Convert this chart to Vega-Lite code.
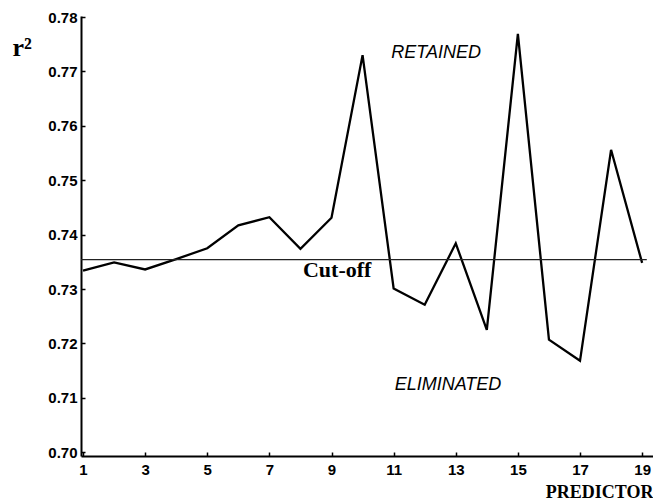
{
  "$schema": "https://vega.github.io/schema/vega-lite/v6.json",
  "width": 572,
  "height": 440,
  "autosize": {"type": "none"},
  "padding": {"left": 81, "top": 16, "right": 0, "bottom": 44},
  "background": "white",
  "config": {"view": {"stroke": null}},
  "datasets": {
    "series": [
      {"predictor": 1, "r2": 0.7334},
      {"predictor": 2, "r2": 0.7349},
      {"predictor": 3, "r2": 0.7336},
      {"predictor": 4, "r2": 0.7355},
      {"predictor": 5, "r2": 0.7375},
      {"predictor": 6, "r2": 0.7417},
      {"predictor": 7, "r2": 0.7432},
      {"predictor": 8, "r2": 0.7374},
      {"predictor": 9, "r2": 0.7431},
      {"predictor": 10, "r2": 0.7730},
      {"predictor": 11, "r2": 0.7301},
      {"predictor": 12, "r2": 0.7271},
      {"predictor": 13, "r2": 0.7384},
      {"predictor": 14, "r2": 0.7225},
      {"predictor": 15, "r2": 0.7769},
      {"predictor": 16, "r2": 0.7207},
      {"predictor": 17, "r2": 0.7168},
      {"predictor": 18, "r2": 0.7556},
      {"predictor": 19, "r2": 0.7348}
    ],
    "cutoff": [{"x1": 0.935, "x2": 19.15, "r2": 0.7354}],
    "labels": [
      {"x": 12.37, "y": 0.7725, "label": "RETAINED"},
      {"x": 12.75, "y": 0.7114, "label": "ELIMINATED"}
    ],
    "cutlabel": [{"x": 8.08, "y": 0.7322, "label": "Cut-off"}]
  },
  "layer": [
    {
      "data": {"name": "series"},
      "mark": {"type": "line", "color": "black", "strokeWidth": 2.3, "clip": true},
      "encoding": {
        "x": {
          "field": "predictor", "type": "quantitative",
          "scale": {"domain": [0.935, 19.35], "nice": false, "zero": false},
          "axis": {
            "values": [1, 3, 5, 7, 9, 11, 13, 15, 17, 19],
            "grid": false,
            "domainColor": "black", "domainWidth": 2,
            "tickColor": "black", "tickSize": -4, "tickWidth": 1.5,
            "labelFont": "Liberation Sans", "labelFontWeight": "bold", "labelFontSize": 15, "labelColor": "black",
            "labelPadding": 10,
            "title": "PREDICTOR",
            "titleFont": "Liberation Serif", "titleFontWeight": "bold", "titleFontSize": 18, "titleColor": "black",
            "titleAnchor": "end", "titleAlign": "right", "titleBaseline": "alphabetic",
            "titleX": 572, "titleY": 41
          }
        },
        "y": {
          "field": "r2", "type": "quantitative",
          "scale": {"domain": [0.6993, 0.7802], "nice": false, "zero": false},
          "axis": {
            "values": [0.70, 0.71, 0.72, 0.73, 0.74, 0.75, 0.76, 0.77, 0.78],
            "format": ".2f",
            "grid": false,
            "domainColor": "black", "domainWidth": 2,
            "tickColor": "black", "tickSize": -4, "tickWidth": 1.5,
            "labelFont": "Liberation Sans", "labelFontWeight": "bold", "labelFontSize": 15, "labelColor": "black",
            "labelPadding": 8,
            "title": "r²",
            "titleFont": "Liberation Serif", "titleFontWeight": "bold", "titleFontSize": 26, "titleColor": "black",
            "titleAngle": 0, "titleAlign": "left", "titleBaseline": "alphabetic",
            "titleX": -69, "titleY": 39
          }
        }
      }
    },
    {
      "data": {"name": "cutoff"},
      "mark": {"type": "rule", "color": "#222", "strokeWidth": 1.2},
      "encoding": {
        "x": {"field": "x1", "type": "quantitative"},
        "x2": {"field": "x2"},
        "y": {"field": "r2", "type": "quantitative"}
      }
    },
    {
      "data": {"name": "labels"},
      "mark": {"type": "text", "font": "Liberation Sans", "fontStyle": "italic", "fontSize": 18, "color": "black", "align": "center", "baseline": "alphabetic"},
      "encoding": {
        "x": {"field": "x", "type": "quantitative"},
        "y": {"field": "y", "type": "quantitative"},
        "text": {"field": "label"}
      }
    },
    {
      "data": {"name": "cutlabel"},
      "mark": {"type": "text", "font": "Liberation Serif", "fontWeight": "bold", "fontSize": 22, "color": "black", "align": "left", "baseline": "alphabetic"},
      "encoding": {
        "x": {"field": "x", "type": "quantitative"},
        "y": {"field": "y", "type": "quantitative"},
        "text": {"field": "label"}
      }
    }
  ]
}
